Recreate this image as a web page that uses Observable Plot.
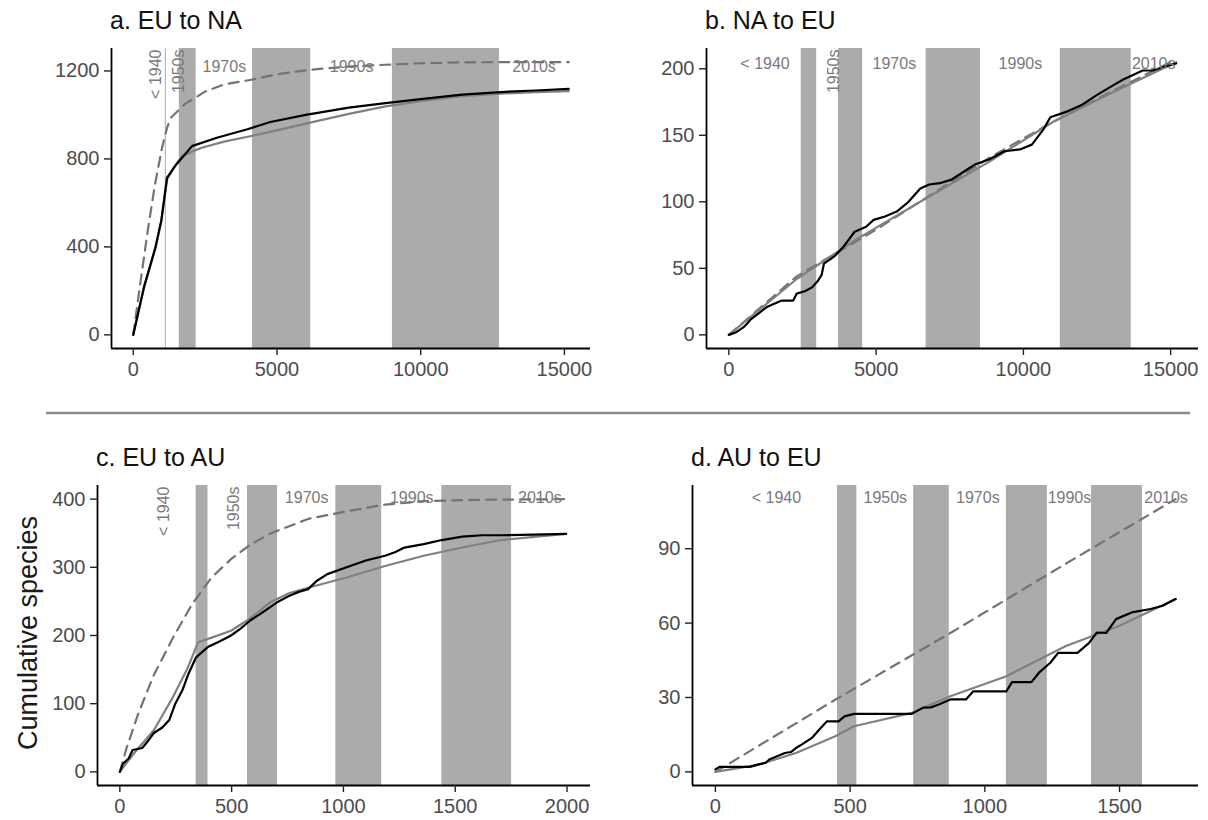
<!DOCTYPE html>
<html><head><meta charset="utf-8">
<script src="https://cdn.jsdelivr.net/npm/d3@7"></script>
<script src="https://cdn.jsdelivr.net/npm/@observablehq/plot@0.6"></script>
<style>
body{margin:0;background:#fff;}
#root{position:relative;width:1208px;height:820px;font-family:"Liberation Sans",Arial,sans-serif;overflow:hidden;background:#fff;}
.panel{position:absolute;}
.title{position:absolute;font-size:25px;color:#111;white-space:nowrap;line-height:1;}
</style></head><body><div id="root"></div>
<script>
// ---------- data ----------
const decades = ["< 1940","1940s","1950s","1960s","1970s","1980s","1990s","2000s","2010s"];
const shadedDecades = ["1940s","1960s","1980s","2000s"];

const titles = ["a. EU to NA","b. NA to EU","c. EU to AU","d. AU to EU"];

// decade boundaries (x units: cumulative records)
const aBreaks = [0, 1115, 1150, 1602, 2188, 4150, 6176, 9016, 12737, 15150];
const bBreaks = [0, 2458, 2983, 3722, 4542, 6695, 8542, 11254, 13661, 15186];
const cBreaks = [0, 341, 394, 571, 705, 966, 1171, 1440, 1752, 2005];
const dBreaks = [0, 453, 525, 736, 868, 1080, 1232, 1396, 1585, 1760];

// observed (black)
const aObserved = [[0,0],[374,218],[774,399],[975,520],[1175,715],[1508,776],[2042,858],[2909,896],[3972,935],[4770,968],[6000,1000],[7500,1033],[8776,1054],[10000,1072],[11442,1092],[12777,1104],[14000,1111],[15150,1118]];
const bObserved = [[0,0],[250,2],[491,5.6],[600,8],[754,11.9],[1000,16],[1272,20.7],[1500,23],[1797,25.8],[2186,25.8],[2305,31],[2600,33],[2837,35.9],[3033,40.9],[3150,45],[3227,53.5],[3450,57],[3620,59.8],[3882,66],[4271,77.5],[4661,81.3],[4915,86.4],[5300,89],[5700,92.7],[6100,100],[6500,110],[6800,113],[7165,114],[7556,116.7],[8000,123],[8348,128],[8834,131.8],[9355,138],[9882,139.4],[10287,143],[10682,154.5],[10915,163.6],[11500,168],[12000,173],[12475,180],[13000,187],[13390,192],[14050,198.7],[14390,198.7],[14700,201],[15186,204]];
const cObserved = [[0,0],[14,12],[40,20],[57,32],[100,35],[125,45],[152,57],[190,65],[221,76],[248,100],[280,120],[307,144],[341,168],[393,183],[450,192],[497,200],[540,210],[583,222],[630,232],[669,241],[710,250],[756,258],[800,264],[842,268],[880,280],[928,290],[1014,300],[1100,310],[1186,317],[1230,322],[1273,329],[1359,334],[1440,340],[1531,345],[1620,347],[1704,347],[1850,348],[1996,349]];
const dObserved = [[0,1],[15,2],[128,2],[160,3],[186,3.6],[200,5],[258,7.6],[280,8],[299,9.6],[320,11],[358,13.7],[385,17],[414,20.4],[458,20.4],[479,22.4],[515,23.4],[729,23.4],[771,25.9],[800,26],[829,27.2],[872,29.2],[930,29.2],[957,32.5],[1080,32.5],[1101,36.2],[1173,36.2],[1201,40],[1243,44],[1272,48],[1344,48],[1387,52],[1415,56.2],[1450,56],[1487,61.6],[1545,64.3],[1615,65.7],[1660,67],[1708,69.7]];

// fitted (solid grey)
const aFitted = [[0,0],[374,215],[774,395],[975,515],[1175,705],[1400,760],[1709,815],[2375,851],[3200,880],[4109,904],[5000,930],[6110,964],[7500,1005],[8776,1039],[10000,1062],[11442,1085],[12777,1097],[14000,1103],[15150,1108]];
const bFitted = [[0,0],[2305,42],[4271,71],[6800,104],[8834,130],[11000,160],[13000,182],[15186,205]];
const cFitted = [[0,0],[65,28],[152,61],[238,110],[300,150],[350,190],[420,198],[497,207],[583,225],[669,248],[756,262],[842,270],[1014,285],[1186,302],[1359,317],[1531,329],[1704,340],[1996,349]];
const dFitted = [[0,0],[157,2.8],[299,7.6],[443,14.3],[515,18.4],[729,23.8],[872,30.5],[1080,38.6],[1301,50.8],[1500,58.9],[1708,69.7]];

// null expectation (dashed grey)
const aExpected = [[0,0],[250,240],[500,470],[750,680],[1000,850],[1175,941],[1303,986],[1800,1050],[2513,1107],[3200,1140],[4109,1160],[5000,1185],[6110,1205],[7500,1220],[8776,1228],[10000,1235],[11500,1239],[13000,1240],[15150,1240]];
const bExpected = [[0,0],[2305,44],[4915,78],[8834,133],[11000,160],[13000,183],[15186,207]];
const cExpected = [[0,0],[31,36],[83,86],[152,142],[238,197],[323,246],[410,285],[497,312],[583,333],[669,349],[842,371],[1014,382],[1186,392],[1359,397],[1600,399],[1996,400]];
const dExpected = [[0,0],[443,29],[872,56],[1301,84],[1708,110]];

// tick values
const aXTicks = [0,5000,10000,15000], aYTicks = [0,400,800,1200];
const bXTicks = [0,5000,10000,15000], bYTicks = [0,50,100,150,200];
const cXTicks = [0,500,1000,1500,2000], cYTicks = [0,100,200,300,400];
const dXTicks = [0,500,1000,1500], dYTicks = [0,30,60,90];

const yAxisLabel = "Cumulative species";

// ---------- layout / style ----------
const panels = [
  {title: titles[0], breaks: aBreaks, obs: aObserved, fit: aFitted, exp: aExpected, xt: aXTicks, yt: aYTicks,
   left: 0, top: 0, w: 604, h: 400, mL: 111, mR: 14, mT: 48, mB: 52, xd: [-757, 15907], yd: [-62, 1302],
   rot: ["< 1940","1950s"], lblDy: 12, titleTop: 29},
  {title: titles[1], breaks: bBreaks, obs: bObserved, fit: bFitted, exp: bExpected, xt: bXTicks, yt: bYTicks,
   left: 604, top: 0, w: 604, h: 400, mL: 102, mR: 10, mT: 48, mB: 52, xd: [-759, 15945], yd: [-10.25, 215.25],
   rot: ["1950s"], lblDy: 9, titleTop: 29},
  {title: titles[2], breaks: cBreaks, obs: cObserved, fit: cFitted, exp: cExpected, xt: cXTicks, yt: cYTicks,
   left: 0, top: 420, w: 604, h: 400, mL: 97, mR: 14, mT: 65, mB: 35, xd: [-100, 2105], yd: [-20, 420],
   rot: ["< 1940","1950s"], lblDy: 6, titleTop: 466},
  {title: titles[3], breaks: dBreaks, obs: dObserved, fit: dFitted, exp: dExpected, xt: dXTicks, yt: dYTicks,
   left: 604, top: 420, w: 604, h: 400, mL: 88, mR: 10, mT: 65, mB: 35, xd: [-85, 1793], yd: [-5.5, 115.5],
   rot: [], lblDy: 6, titleTop: 466}
];

const root = document.getElementById("root");
const toPts = arr => arr.map(([x, y]) => ({x, y}));

for (const p of panels) {
  const bands = decades.map((name, i) => ({name, x1: p.breaks[i], x2: p.breaks[i + 1], mid: (p.breaks[i] + p.breaks[i + 1]) / 2}));
  const shaded = bands.filter(b => shadedDecades.includes(b.name));
  const labeled = bands.filter(b => !shadedDecades.includes(b.name));
  const horiz = labeled.filter(b => !p.rot.includes(b.name));
  const vert = labeled.filter(b => p.rot.includes(b.name));

  const chart = Plot.plot({
    width: p.w, height: p.h,
    marginLeft: p.mL, marginRight: p.mR, marginTop: p.mT, marginBottom: p.mB,
    x: {domain: p.xd, label: null},
    y: {domain: p.yd, label: null},
    style: {fontFamily: '"Liberation Sans", Arial, sans-serif', background: "transparent", overflow: "visible"},
    marks: [
      Plot.rect(shaded, {x1: "x1", x2: "x2", y1: () => p.yd[0], y2: () => p.yd[1], fill: "#ababab"}),
      Plot.line(toPts(p.exp), {x: "x", y: "y", stroke: "#737373", strokeWidth: 2.2, strokeDasharray: "10,7"}),
      Plot.line(toPts(p.fit), {x: "x", y: "y", stroke: "#808080", strokeWidth: 2.2}),
      Plot.line(toPts(p.obs), {x: "x", y: "y", stroke: "#000", strokeWidth: 2.2}),
      Plot.text(horiz, {x: "mid", text: "name", frameAnchor: "top", dy: p.lblDy, fill: "#7a7a7a", fontSize: 16}),
      Plot.text(vert, {x: "mid", text: "name", frameAnchor: "top", rotate: -90, textAnchor: "end", dy: 1, fill: "#7a7a7a", fontSize: 16}),
      Plot.ruleX([p.xd[0]], {stroke: "#000", strokeWidth: 1.8}),
      Plot.ruleY([p.yd[0]], {stroke: "#000", strokeWidth: 1.8}),
      Plot.axisX({ticks: p.xt, tickFormat: d3.format("d"), tickSize: 7, tickPadding: 6, fontSize: 20, stroke: "#222", strokeWidth: 1.4, fill: "#4d4d4d", label: null}),
      Plot.axisY({ticks: p.yt, tickFormat: d3.format("d"), tickSize: 7, tickPadding: 5, fontSize: 20, stroke: "#222", strokeWidth: 1.4, fill: "#4d4d4d", label: null})
    ]
  });
  chart.classList.add("panel");
  chart.style.left = p.left + "px";
  chart.style.top = p.top + "px";
  root.appendChild(chart);

  const t = document.createElement("div");
  t.className = "title";
  t.textContent = p.title;
  t.style.left = (p.left + p.mL - 1) + "px";
  t.style.top = (p.titleTop - 21) + "px";
  root.appendChild(t);
}

// separator and shared y label
const ns = "http://www.w3.org/2000/svg";
const ov = document.createElementNS(ns, "svg");
ov.setAttribute("width", 1208); ov.setAttribute("height", 820);
ov.style.position = "absolute"; ov.style.left = "0"; ov.style.top = "0"; ov.style.pointerEvents = "none";
const sep = document.createElementNS(ns, "line");
sep.setAttribute("x1", 46); sep.setAttribute("x2", 1190); sep.setAttribute("y1", 413); sep.setAttribute("y2", 413);
sep.setAttribute("stroke", "#8c8c8c"); sep.setAttribute("stroke-width", 2.6);
ov.appendChild(sep);
const yl = document.createElementNS(ns, "text");
yl.setAttribute("transform", "translate(37,633) rotate(-90)");
yl.setAttribute("text-anchor", "middle");
yl.setAttribute("font-size", 27);
yl.setAttribute("font-family", '"Liberation Sans", Arial, sans-serif');
yl.setAttribute("fill", "#1a1a1a");
yl.textContent = yAxisLabel;
ov.appendChild(yl);
root.appendChild(ov);
</script>
</body></html>
